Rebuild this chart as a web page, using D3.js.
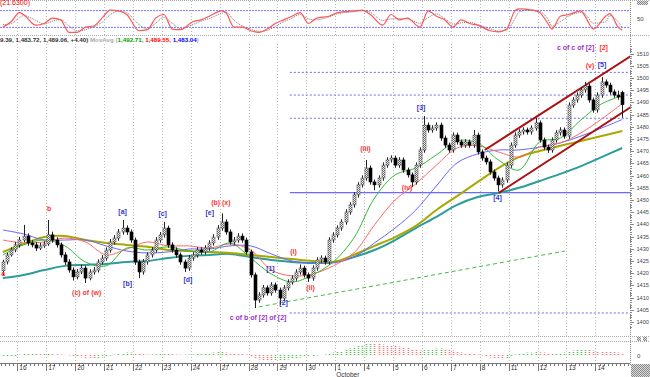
<!DOCTYPE html>
<html>
<head>
<meta charset="utf-8">
<script src="https://cdn.jsdelivr.net/npm/d3@7/dist/d3.min.js"></script>
<style>
body { margin:0; background:#fff; }
svg { display:block; font-family:"Liberation Sans", Arial, sans-serif; }
</style>
</head>
<body>
<div id="chart"></div>
<script>
//Hourly bars [open, high, low, close], Sep 15 (part) .. Oct 14

const ohlc = [
  [1421.0,1425.5,1419.0,1424.6],[1424.6,1428.4,1423.6,1427.5],[1427.5,1430.6,1426.8,1429.5],[1429.5,1432.8,1428.6,1431.6],
  //16
  [1431.6,1434.9,1430.5,1433.6],[1433.6,1439.8,1432.7,1435.2],[1435.2,1436.3,1431.2,1432.4],[1432.4,1433.5,1430.6,1431.6],[1431.6,1432.8,1429.1,1430.3],[1430.3,1432.4,1429.5,1431.2],[1431.2,1433.1,1430.4,1432.0],
  //17
  [1432.0,1441.8,1431.2,1435.7],[1435.7,1437.0,1432.5,1433.6],[1433.6,1434.7,1430.5,1431.6],[1431.6,1432.6,1426.4,1427.5],[1427.5,1428.6,1423.4,1424.6],[1424.6,1425.7,1420.2,1421.3],[1421.3,1422.4,1417.0,1418.5],
  //20
  [1418.5,1421.7,1417.5,1420.5],[1420.5,1423.4,1419.6,1422.1],[1422.1,1423.0,1416.0,1418.0],[1418.0,1421.6,1417.1,1420.5],[1420.5,1422.5,1419.4,1421.3],[1421.3,1425.7,1420.3,1424.6],[1424.6,1427.4,1423.5,1426.2],
  //21
  [1426.2,1430.6,1425.1,1429.5],[1429.5,1434.0,1428.4,1432.8],[1432.8,1435.6,1431.7,1434.4],[1434.4,1438.1,1433.3,1436.9],[1436.9,1441.8,1435.8,1438.5],[1438.5,1439.6,1435.7,1436.9],[1436.9,1437.9,1432.5,1433.6],
  //22
  [1433.6,1434.6,1423.4,1424.6],[1424.6,1425.6,1418.0,1420.5],[1420.5,1425.8,1419.4,1424.6],[1424.6,1428.6,1423.5,1427.5],[1427.5,1430.7,1426.4,1429.5],[1429.5,1434.8,1428.4,1433.6],[1433.6,1436.9,1432.5,1435.7],
  //23
  [1435.7,1441.0,1434.6,1438.5],[1438.5,1439.5,1430.4,1431.6],[1431.6,1432.7,1428.4,1429.5],[1429.5,1430.6,1426.3,1427.5],[1427.5,1428.5,1423.5,1424.6],[1424.6,1425.6,1420.5,1422.1],[1422.1,1427.4,1421.0,1426.2],
  //24
  [1426.2,1428.6,1425.1,1427.5],[1427.5,1430.7,1426.4,1429.5],[1429.5,1430.6,1427.6,1428.7],[1428.7,1431.5,1427.6,1430.3],[1430.3,1433.5,1429.2,1432.4],[1432.4,1436.0,1431.3,1434.8],[1434.8,1439.7,1433.7,1438.5],
  //27
  [1438.5,1444.5,1437.4,1441.0],[1441.0,1442.1,1435.8,1436.9],[1436.9,1437.9,1431.7,1432.8],[1432.8,1434.8,1431.7,1433.6],[1433.6,1436.4,1432.5,1435.2],[1435.2,1436.3,1432.5,1433.6],[1433.6,1434.6,1427.6,1428.7],
  //28
  [1428.7,1429.7,1418.2,1419.3],[1419.3,1420.3,1405.7,1409.0],[1409.0,1412.2,1407.9,1411.1],[1411.1,1415.2,1410.0,1414.0],[1414.0,1415.0,1410.8,1411.9],[1411.9,1416.3,1410.8,1415.2],[1415.2,1416.2,1412.0,1413.1],
  //29
  [1413.1,1414.1,1407.0,1409.8],[1409.8,1415.1,1408.7,1414.0],[1414.0,1417.5,1412.9,1416.4],[1416.4,1419.1,1415.3,1418.0],[1418.0,1421.6,1416.9,1420.5],[1420.5,1423.6,1419.4,1422.1],[1422.1,1423.1,1418.2,1419.3],
  //30
  [1419.3,1420.3,1416.4,1418.0],[1418.0,1423.2,1416.9,1422.1],[1422.1,1426.5,1421.0,1425.4],[1425.4,1427.3,1424.3,1426.2],[1426.2,1427.2,1423.5,1424.6],[1424.6,1434.7,1423.5,1433.6],[1433.6,1436.8,1432.5,1435.7],
  //Oct 1
  [1435.7,1439.6,1434.6,1438.5],[1438.5,1442.1,1437.4,1441.0],[1441.0,1446.2,1439.9,1445.1],[1445.1,1449.1,1444.0,1448.0],[1448.0,1453.2,1446.9,1452.1],[1452.1,1457.3,1451.0,1456.2],[1456.2,1460.1,1455.1,1459.0],
  //4
  [1459.0,1466.4,1457.9,1463.1],[1463.1,1464.1,1456.3,1457.4],[1457.4,1458.4,1454.0,1456.2],[1456.2,1460.1,1455.1,1459.0],[1459.0,1465.4,1457.9,1464.3],[1464.3,1467.5,1463.2,1466.4],[1466.4,1468.3,1465.3,1467.2],
  //5
  [1467.2,1468.2,1463.2,1464.3],[1464.3,1467.5,1463.2,1466.4],[1466.4,1467.4,1461.2,1462.3],[1462.3,1463.3,1459.2,1460.3],[1460.3,1461.3,1455.3,1457.4],[1457.4,1465.4,1456.3,1464.3],[1464.3,1471.6,1463.2,1470.5],
  //6
  [1470.5,1484.4,1469.4,1480.7],[1480.7,1481.8,1477.6,1478.7],[1478.7,1480.6,1477.6,1479.5],[1479.5,1481.8,1478.4,1480.7],[1480.7,1481.7,1474.3,1475.4],[1475.4,1476.4,1471.4,1472.5],[1472.5,1473.5,1469.4,1470.5],
  //7
  [1470.5,1477.7,1469.4,1476.6],[1476.6,1477.6,1472.7,1473.8],[1473.8,1474.8,1471.4,1472.5],[1472.5,1474.9,1471.4,1473.8],[1473.8,1474.8,1471.4,1472.5],[1472.5,1478.7,1471.4,1476.6],[1476.6,1477.6,1468.6,1469.7],
  //8
  [1469.7,1470.7,1466.1,1467.2],[1467.2,1468.2,1464.5,1465.6],[1465.6,1466.6,1460.4,1461.5],[1461.5,1462.5,1457.9,1459.0],[1459.0,1460.0,1453.5,1456.2],[1456.2,1459.3,1455.1,1458.2],[1458.2,1465.4,1457.1,1464.3],
  //11
  [1464.3,1473.6,1463.2,1472.5],[1472.5,1477.7,1471.4,1476.6],[1476.6,1479.0,1475.5,1477.9],[1477.9,1479.8,1476.8,1478.7],[1478.7,1479.7,1476.8,1477.9],[1477.9,1480.6,1476.8,1479.5],[1479.5,1483.6,1478.4,1481.6],
  //12
  [1481.6,1482.6,1473.5,1474.6],[1474.6,1475.6,1470.6,1471.7],[1471.7,1472.7,1469.3,1470.5],[1470.5,1475.7,1469.4,1474.6],[1474.6,1478.6,1473.5,1477.5],[1477.5,1479.8,1476.4,1478.7],[1478.7,1479.7,1475.1,1476.2],
  //13
  [1476.2,1490.0,1475.1,1488.9],[1488.9,1492.1,1487.8,1491.0],[1491.0,1494.1,1489.9,1493.0],[1493.0,1496.2,1491.9,1495.1],[1495.1,1498.4,1494.0,1496.7],[1496.7,1497.7,1489.9,1491.0],[1491.0,1492.0,1485.8,1486.9],
  //14
  [1486.9,1494.1,1485.8,1493.0],[1493.0,1500.4,1491.9,1498.4],[1498.4,1499.4,1496.0,1497.1],[1497.1,1498.1,1493.2,1494.3],[1494.3,1495.3,1491.9,1493.0],[1493.0,1494.8,1491.1,1492.2],[1494.0,1494.8,1483.7,1489.1]
];

//Day labels and the bar where each day starts

const dayLabels = ["16","17","20","21","22","23","24","27","28","29","30","1","4","5","6","7","8","11","12","13","14"];
const dayStart = dayLabels.map((d,k) => 4 + k*7);

//Moving averages, read every 5 bars (bar 0,5,...,150)

const maBars = d3.range(0, 151, 5);
const maGreen  = [1427.5,1431.6,1433.6,1431.2,1424.6,1423.0,1430.3,1429.5,1430.8,1429.1,1428.7,1432.4,1426.2,1419.7,1416.4,1419.3,1424.6,1434.4,1450.8,1460.3,1463.1,1468.5,1474.2,1473.4,1466.4,1462.3,1473.8,1475.4,1482.8,1489.4,1492.7];
const maRed    = [1433.6,1432.4,1432.8,1434.4,1432.8,1427.5,1429.9,1432.8,1431.2,1431.2,1430.3,1432.0,1429.5,1421.3,1418.9,1419.7,1423.0,1428.3,1439.8,1450.0,1456.6,1464.3,1471.3,1472.2,1469.7,1467.6,1471.7,1473.4,1477.5,1483.2,1489.5];
const maBlue   = [1437.7,1436.1,1433.6,1433.6,1433.6,1431.2,1429.1,1428.3,1428.7,1429.9,1429.9,1431.2,1431.2,1427.9,1425.0,1424.2,1424.2,1426.6,1432.4,1438.5,1445.9,1455.8,1465.2,1468.9,1470.5,1470.5,1471.7,1473.4,1476.2,1479.5,1483.0];
const maYellow = [1428.7,1432.0,1434.8,1435.2,1433.6,1432.4,1431.6,1430.8,1429.5,1429.1,1428.7,1428.3,1427.5,1426.6,1425.8,1425.0,1424.6,1427.5,1431.2,1434.8,1439.4,1445.9,1451.6,1457.4,1463.1,1467.6,1470.1,1472.2,1474.2,1476.2,1478.3];
const maTeal   = [1418.0,1419.3,1421.3,1423.0,1423.4,1423.8,1424.6,1425.0,1426.2,1427.1,1427.5,1427.9,1426.6,1425.4,1424.6,1424.2,1424.6,1426.6,1429.5,1433.6,1438.5,1443.1,1448.0,1451.2,1452.9,1455.0,1457.8,1460.7,1463.9,1467.6,1471.3];

//Stochastic (%K red, %D gray) at these bars

const stochBars = [0,2,4,5,8,10,12,14,16,18,20,22,24,26,28,30,33,35,37,39,41,43,46,48,50,53,54,56,58,60,62,64,66,68,70,72,74,76,79,81,85,87,89,92,94,96,98,101,103,105,107,109,111,113,115,118,120,122,124,125,128,130,132,133,135,137,140,141,143,146,147,149,150];
const stochK = [21,40,73,66,28,34,53,47,2,2,21,25,53,82,79,66,8,12,53,66,14,12,40,47,60,79,73,21,21,8,2,14,34,47,60,73,34,53,60,73,79,82,66,28,66,47,53,21,79,60,47,21,47,34,28,8,4,14,79,86,82,73,34,14,60,66,79,60,14,60,69,21,10];
const stochD = [30,33,55,62,45,32,42,48,25,8,12,22,38,65,78,72,30,14,35,55,35,15,30,42,52,70,74,45,25,14,6,9,24,40,53,66,50,47,58,68,76,80,74,45,50,52,50,35,55,68,52,32,36,38,30,16,7,10,50,75,82,77,50,25,40,60,73,68,35,40,62,40,18];

//Histogram in the lower panel, one value per bar

const histo = [
  -2,-2,-1.5,-1,
  0.5,1,1.5,1.5,1.2,1,1,
  1.2,1,0.8,0.5,0.2,-0.5,-1.5,
  -2,-2.5,-3,-3.5,-3.8,-3.2,-2.5,
  -1.5,-0.5,0.5,1.5,2,2.5,2.6,
  2,1.5,0.8,0.5,0.6,0.8,1,
  1.2,1,0.8,0.5,0.3,0.4,0.6,
  0.7,0.9,1.1,1.5,2,2.5,3,
  3.1,2.5,2,1.5,1.2,1,0.5,
  -1,-3,-4.5,-5.5,-6,-6.2,-5.8,
  -5.5,-5,-4.5,-4,-3,-2.5,-2,
  -1.5,-1,-0.5,0,0.5,1.5,2.5,
  3,4,5,6.5,8,9,10,
  11,12,11.5,11,10.5,10,9.5,
  9,8.5,7.5,7,6,5,4.5,
  5,5.5,6,6.5,6.6,6,5,
  4.5,3.5,2.5,2,1.5,1,0.5,
  -0.5,-1.5,-2.5,-3.5,-4,-4.2,-3.5,
  -2,0.5,1.5,2,2.5,2.6,3,
  2.8,2.5,2,1.8,1.9,2.1,2.5,
  3.5,4.5,5,5.5,5.6,5,4.5,
  4,3.8,3.5,3.2,3,2.5,2
];

//Horizontal levels and drawn lines

const levelsDotted = [1502.3, 1493.0, 1483.5, 1403.7];
const levelSolid = 1453.0;
const channelUpper = [[117.2,1470.5],[152.5,1508.9]];
const channelLower = [[120.6,1452.9],[152.5,1488.0]];
const supportLine  = [[62.5,1406.2],[136.6,1429.1]];

//Wave labels [text, bar, price, kind]

const waveLabels = [
  ["a",0.6,1420.0,"r"],["b",11.7,1446.3,"r"],["(c) of (w)",20.8,1412.0,"r"],
  ["[a]",29.5,1445.1,"b"],["[b]",30.7,1415.6,"b"],["[c]",39.2,1444.3,"b"],["[d]",45.3,1417.6,"b"],["[e]",50.6,1444.7,"b"],
  ["(b) (x)",53.3,1448.8,"r"],["[1]",65.3,1422.1,"b"],["[2]",68.5,1407.8,"b"],["(i)",70.9,1428.7,"r"],["(ii)",75.0,1414.3,"r"],
  ["c of b of [2] of [2]",62.3,1402.0,"p"],["(iii)",88.3,1470.9,"r"],["(iv)",98.4,1454.9,"r"],["[3]",101.8,1487.7,"b"],
  ["[4]",120.3,1451.2,"b"],["(v)",142.7,1505.3,"r"],["[5]",145.6,1505.7,"b"],["c of c of [2]",139.2,1512.3,"p"],["[2]",146.0,1512.3,"r"]
];
const labelColor = {r:"#ff3333", b:"#3333cc", p:"#9933cc"};

const priceTicks = d3.range(1400, 1511, 5);

//Set Dimensions

const W = 650, H = 377;
const plotR = 630;

const svg = d3.select("#chart").append("svg")
  .attr("width", W).attr("height", H);

const defs = svg.append("defs");
const pat = defs.append("pattern").attr("id","stip").attr("width",2).attr("height",2)
  .attr("patternUnits","userSpaceOnUse");
pat.append("rect").attr("width",2).attr("height",2).attr("fill","#fff");
pat.append("rect").attr("width",1).attr("height",1).attr("fill","#6a6a6a");
pat.append("rect").attr("x",1).attr("y",1).attr("width",1).attr("height",1).attr("fill","#6a6a6a");

const chk = defs.append("pattern").attr("id","chk").attr("width",2).attr("height",2)
  .attr("patternUnits","userSpaceOnUse");
chk.append("rect").attr("width",2).attr("height",2).attr("fill","#ddd");
chk.append("rect").attr("width",1).attr("height",1).attr("fill","#888");
chk.append("rect").attr("x",1).attr("y",1).attr("width",1).attr("height",1).attr("fill","#888");

//Scales

const x = d3.scaleLinear().domain([0, 152.5]).range([0.8, 630.5]);
const y = d3.scaleLinear().domain([1400, 1510]).range([322, 53.6]);
const ys = d3.scaleLinear().domain([0, 100]).range([33, 5]);
const yh = d3.scaleLinear().domain([-7, 13]).range([362, 342]);

//Panel borders

const grid = "#aaa";
[0.5, 35.5, 336.5, 341.5].forEach(v => {
  svg.append("line").attr("x1",0).attr("x2",W).attr("y1",v).attr("y2",v)
    .attr("stroke",grid).attr("stroke-dasharray","1,1");
});
svg.append("line").attr("x1",plotR+0.5).attr("x2",plotR+0.5).attr("y1",0).attr("y2",366)
  .attr("stroke","#888").attr("stroke-dasharray","1,1");

//Vertical day lines in all panels

[[1,35],[44,336],[342,362]].forEach(r => {
  svg.append("g").selectAll("line").data(dayStart).join("line")
    .attr("x1", d => Math.round(x(d))+0.5).attr("x2", d => Math.round(x(d))+0.5)
    .attr("y1", r[0]).attr("y2", r[1])
    .attr("stroke","#b8b8b8").attr("stroke-dasharray","1,2");
});

//Top panel: stochastic

[80, 20].forEach(v => {
  svg.append("line").attr("x1",0).attr("x2",plotR).attr("y1",ys(v)).attr("y2",ys(v))
    .attr("stroke","#7777ff").attr("stroke-dasharray","2,1");
});
const sLine = arr => d3.line().curve(d3.curveMonotoneX)
  .x((d,i) => x(stochBars[i]+0.5)).y(d => ys(d))(arr);
svg.append("path").attr("d", sLine(stochD)).attr("fill","none")
  .attr("stroke","#777").attr("stroke-width",1).attr("stroke-dasharray","1,1");
svg.append("path").attr("d", sLine(stochK)).attr("fill","none")
  .attr("stroke","#ff5555").attr("stroke-width",1.2);
svg.append("text").attr("x",0).attr("y",5).attr("font-size",7).attr("fill","#e00").text("(21.6300)");
svg.append("text").attr("x",637).attr("y",21).attr("font-size",6).attr("fill","#444").text("50");
svg.append("rect").attr("x",637).attr("y",1).attr("width",11).attr("height",4).attr("fill","url(#chk)");

//Header line of the price panel

const head = svg.append("text").attr("x",0).attr("y",41.5).attr("font-size",6.2).attr("font-weight","bold");
head.append("tspan").attr("fill","#333").text("9.39, 1,483.72, 1,489.06, +4.40) ");
head.append("tspan").attr("fill","#aaa").text("MovAvg (");
head.append("tspan").attr("fill","#00a000").text("1,492.71, ");
head.append("tspan").attr("fill","#ff0000").text("1,489.55, ");
head.append("tspan").attr("fill","#0000ff").text("1,483.04");
head.append("tspan").attr("fill","#aaa").text(")");

//Right price axis

const axisG = svg.append("g").attr("transform", `translate(${plotR},0)`);
axisG.selectAll("line.mn").data(d3.range(1398, 1514, 1)).join("line")
  .attr("x1",0).attr("x2", d => d % 5 === 0 ? 4 : 2)
  .attr("y1", d => Math.round(y(d))+0.5).attr("y2", d => Math.round(y(d))+0.5)
  .attr("stroke","#888");
axisG.selectAll("text").data(priceTicks).join("text")
  .attr("x",6.5).attr("y", d => y(d)+2)
  .attr("font-size",5.6).attr("fill","#444").text(d => d);

//Levels

const mainClip = defs.append("clipPath").attr("id","mc");
mainClip.append("rect").attr("x",0).attr("y",44).attr("width",plotR).attr("height",292);
const main = svg.append("g").attr("clip-path","url(#mc)");

levelsDotted.forEach(v => {
  main.append("line").attr("x1",x(70)).attr("x2",x(152.5)).attr("y1",y(v)).attr("y2",y(v))
    .attr("stroke","#6a6aff").attr("stroke-dasharray","2,2");
});
main.append("line").attr("x1",x(70)).attr("x2",x(152.5)).attr("y1",y(levelSolid)).attr("y2",y(levelSolid))
  .attr("stroke","#6a6aff").attr("stroke-width",1.3);

//Moving averages

const maLine = d3.line().curve(d3.curveCatmullRom)
  .x((d,i) => x(maBars[i]+0.5)).y(d => y(d));
[[maTeal,"#2f9c9c",2],[maYellow,"#a8a800",2],[maBlue,"#6666ff",1],[maRed,"#ff6666",1],[maGreen,"#33bb33",1]]
  .forEach(m => {
    main.append("path").attr("d", maLine(m[0])).attr("fill","none")
      .attr("stroke", m[1]).attr("stroke-width", m[2]);
  });

//Trend lines

const seg = d3.line().x(d => x(d[0])).y(d => y(d[1]));
main.append("path").attr("d", seg(supportLine)).attr("stroke","#44bb44").attr("stroke-width",1)
  .attr("stroke-dasharray","4,3").attr("fill","none");
[channelUpper, channelLower].forEach(c => {
  main.append("path").attr("d", seg(c)).attr("stroke","#aa1111").attr("stroke-width",2).attr("fill","none");
});

//Candles

const bars = main.append("g").selectAll("g").data(ohlc).join("g");
bars.append("line")
  .attr("x1",(d,i) => Math.round(x(i+0.5))+0.5).attr("x2",(d,i) => Math.round(x(i+0.5))+0.5)
  .attr("y1", d => y(d[1])).attr("y2", d => y(d[2]))
  .attr("stroke","#222");
bars.append("rect")
  .attr("x",(d,i) => Math.round(x(i+0.5))-1)
  .attr("y", d => y(Math.max(d[0],d[3])))
  .attr("width",3)
  .attr("height", d => Math.max(1, Math.abs(y(d[0]) - y(d[3]))))
  .attr("fill", d => d[3] >= d[0] ? "url(#stip)" : "#000")
  .attr("stroke", d => d[3] >= d[0] ? "#555" : "#000")
  .attr("stroke-width",0.6);

//Wave labels

main.append("g").selectAll("text").data(waveLabels).join("text")
  .attr("x", d => x(d[1])).attr("y", d => y(d[2]))
  .attr("dy","0.35em").attr("text-anchor","middle")
  .attr("font-size",7).attr("font-weight","bold")
  .attr("fill", d => labelColor[d[3]]).text(d => d[0]);

//Lower histogram

svg.append("g").selectAll("line").data(histo).join("line")
  .attr("x1",(d,i) => Math.round(x(i+0.5))+0.5).attr("x2",(d,i) => Math.round(x(i+0.5))+0.5)
  .attr("y1", yh(0)).attr("y2", d => yh(d))
  .attr("stroke",(d,i) => (i === 0 || d >= histo[i-1]) ? "#55cc55" : "#ff7777")
  .attr("stroke-width",1.6).attr("stroke-dasharray","1,1");
svg.append("text").attr("x",637).attr("y",358).attr("font-size",6).attr("fill","#444").text("0");
svg.append("rect").attr("x",637).attr("y",337).attr("width",4).attr("height",4).attr("fill","url(#chk)");
svg.append("rect").attr("x",643).attr("y",337).attr("width",4).attr("height",4).attr("fill","url(#chk)");

//Time axis

svg.append("line").attr("x1",0).attr("x2",plotR).attr("y1",363.5).attr("y2",363.5).attr("stroke","#777");
svg.append("g").selectAll("line").data(d3.range(0, 153)).join("line")
  .attr("x1", d => Math.round(x(d))+0.5).attr("x2", d => Math.round(x(d))+0.5)
  .attr("y1",363).attr("y2", d => dayStart.includes(d) ? 371 : 366)
  .attr("stroke","#777");
svg.append("g").selectAll("text").data(dayLabels).join("text")
  .attr("x",(d,k) => x(dayStart[k]) + 2).attr("y",370)
  .attr("font-size",6.5).attr("fill","#333").text(d => d);
svg.append("text").attr("x", x(dayStart[11]) + 1).attr("y",376.5)
  .attr("font-size",6.5).attr("fill","#333").text("October");
svg.append("rect").attr("x",631).attr("y",364).attr("width",19).attr("height",13).attr("fill","url(#chk)");
</script>
</body>
</html>
